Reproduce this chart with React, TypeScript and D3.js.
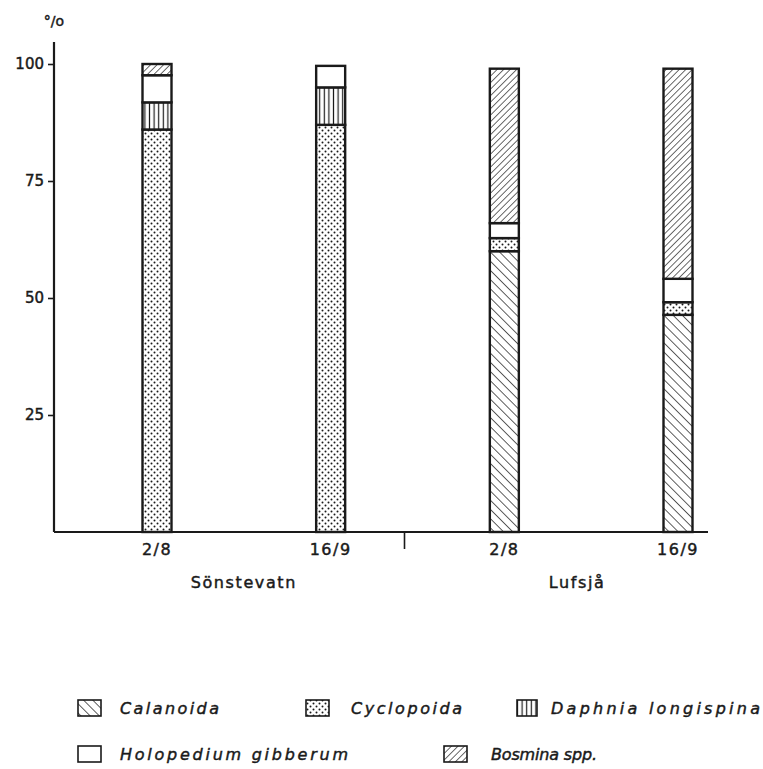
import { useEffect, useRef } from 'react';
import * as d3 from 'd3';

// samples, left to right
const sampleIds = ['S-2/8', 'S-16/9', 'L-2/8', 'L-16/9'];
const sampleDates = ['2/8', '16/9', '2/8', '16/9'];
const lakes = ['Sönstevatn', 'Lufsjå'];
const sampleLake = ['Sönstevatn', 'Sönstevatn', 'Lufsjå', 'Lufsjå'];

// percentages per group
const calanoida = [0, 0, 60, 46.4];
const cyclopoida = [86, 87, 2.8, 2.7];
const daphnia = [5.8, 8, 0, 0];
const holopedium = [5.8, 4.6, 3.2, 5];
const bosmina = [2.4, 0, 33, 44.9];

const yTicks = [25, 50, 75, 100];

const taxa = ['Calanoida', 'Cyclopoida', 'Daphnia longispina', 'Holopedium gibberum', 'Bosmina spp.'];
const fills = ['url(#p-cal)', 'url(#p-cyc)', 'url(#p-dap)', '#fff', 'url(#p-bos)'];

export default function App() {
  const svgRef = useRef<SVGSVGElement>(null);

  useEffect(() => {
    if (!svgRef.current) return;
    const svg = d3.select(svgRef.current);
    svg.selectAll('*').remove();

    const ink = '#1a1a1a';
    const font = '"DejaVu Sans", sans-serif';

    const margin = { left: 54, top: 42, right: 708, baseline: 532 };

    const x = d3.scalePoint<string>().domain(sampleIds).range([157, 678]);
    const y = d3.scaleLinear().domain([0, 100]).range([margin.baseline, 64]);
    const barW = 29;

    // patterns
    const defs = svg.append('defs');
    const cal = defs.append('pattern').attr('id', 'p-cal').attr('patternUnits', 'userSpaceOnUse')
      .attr('width', 6.5).attr('height', 6.5).attr('patternTransform', 'rotate(45)');
    cal.append('rect').attr('width', 6.5).attr('height', 6.5).attr('fill', '#fff');
    cal.append('line').attr('x1', 0).attr('y1', 0).attr('x2', 6.5).attr('y2', 0)
      .attr('stroke', ink).attr('stroke-width', 1.4);

    const bos = defs.append('pattern').attr('id', 'p-bos').attr('patternUnits', 'userSpaceOnUse')
      .attr('width', 4.6).attr('height', 4.6).attr('patternTransform', 'rotate(-45)');
    bos.append('rect').attr('width', 4.6).attr('height', 4.6).attr('fill', '#fff');
    bos.append('line').attr('x1', 0).attr('y1', 0).attr('x2', 4.6).attr('y2', 0)
      .attr('stroke', ink).attr('stroke-width', 1.3);

    const cyc = defs.append('pattern').attr('id', 'p-cyc').attr('patternUnits', 'userSpaceOnUse')
      .attr('width', 6).attr('height', 6);
    cyc.append('rect').attr('width', 6).attr('height', 6).attr('fill', '#fff');
    cyc.append('circle').attr('cx', 1.5).attr('cy', 1.5).attr('r', 1).attr('fill', ink);
    cyc.append('circle').attr('cx', 4.5).attr('cy', 4.5).attr('r', 1).attr('fill', ink);

    const dap = defs.append('pattern').attr('id', 'p-dap').attr('patternUnits', 'userSpaceOnUse')
      .attr('width', 4.6).attr('height', 4.6);
    dap.append('rect').attr('width', 4.6).attr('height', 4.6).attr('fill', '#fff');
    dap.append('line').attr('x1', 2.3).attr('y1', 0).attr('x2', 2.3).attr('y2', 4.6)
      .attr('stroke', ink).attr('stroke-width', 1.2);

    // stacked data
    const rows = sampleIds.map((id, i) => ({
      id,
      [taxa[0]]: calanoida[i],
      [taxa[1]]: cyclopoida[i],
      [taxa[2]]: daphnia[i],
      [taxa[3]]: holopedium[i],
      [taxa[4]]: bosmina[i],
    }));
    const series = d3.stack<any>().keys(taxa)(rows);

    series.forEach((s, k) => {
      svg.append('g').selectAll('rect')
        .data(s.filter(d => d[1] - d[0] > 0))
        .enter().append('rect')
        .attr('x', d => (x(d.data.id) || 0) - barW / 2)
        .attr('width', barW)
        .attr('y', d => y(d[1]))
        .attr('height', d => y(d[0]) - y(d[1]))
        .attr('fill', fills[k])
        .attr('stroke', ink)
        .attr('stroke-width', 2.4);
    });

    // slightly heavier text, like the printed original
    const heavy = (sel: any) => sel.attr('stroke', ink).attr('stroke-width', 0.45).attr('fill', ink);

    // y axis
    const yAxis = svg.append('g')
      .attr('transform', `translate(${margin.left},0)`)
      .call(d3.axisLeft(y).tickValues(yTicks).tickSize(6).tickPadding(4));
    yAxis.select('.domain').remove();
    yAxis.selectAll('line').attr('stroke', ink).attr('stroke-width', 1.6);
    yAxis.selectAll('text')
      .style('font-family', font).style('font-size', '15px').call(heavy);
    svg.append('line')
      .attr('x1', margin.left).attr('x2', margin.left)
      .attr('y1', margin.top).attr('y2', margin.baseline)
      .attr('stroke', ink).attr('stroke-width', 2.2);
    svg.append('text')
      .attr('x', 54).attr('y', 26).attr('text-anchor', 'middle')
      .style('font-family', font).style('font-size', '14px')
      .call(heavy)
      .text('°/o');

    // x axis
    svg.append('line')
      .attr('x1', margin.left).attr('x2', margin.right)
      .attr('y1', margin.baseline).attr('y2', margin.baseline)
      .attr('stroke', ink).attr('stroke-width', 2.2);
    const divX = ((x(sampleIds[1]) || 0) + (x(sampleIds[2]) || 0)) / 2 - 13;
    svg.append('line')
      .attr('x1', divX).attr('x2', divX)
      .attr('y1', margin.baseline).attr('y2', margin.baseline + 17)
      .attr('stroke', ink).attr('stroke-width', 1.6);

    svg.append('g').selectAll('text')
      .data(sampleIds)
      .enter().append('text')
      .attr('x', d => x(d) || 0)
      .attr('y', 555)
      .attr('text-anchor', 'middle')
      .style('font-family', font).style('font-size', '16px').style('letter-spacing', '1.5px')
      .call(heavy)
      .text((d, i) => sampleDates[i]);

    svg.append('g').selectAll('text')
      .data(lakes)
      .enter().append('text')
      .attr('x', lake => (d3.mean(sampleIds.filter((_, i) => sampleLake[i] === lake), id => x(id) || 0) || 0) - (lake === 'Lufsjå' ? 14 : 0))
      .attr('y', 588)
      .attr('text-anchor', 'middle')
      .style('font-family', font).style('font-size', '16px').style('letter-spacing', '1.6px')
      .call(heavy)
      .text(d => d);

    // legend
    const legendPos = [
      { bx: 78, tx: 120, y: 708, w: 99 },
      { bx: 306, tx: 351, y: 708, w: 111 },
      { bx: 517, tx: 551, y: 708, w: 209 },
      { bx: 78, tx: 120, y: 754, w: 228 },
      { bx: 444, tx: 491, y: 754, w: 106 },
    ];
    const legend = svg.append('g');
    taxa.forEach((t, k) => {
      const p = legendPos[k];
      legend.append('rect')
        .attr('x', p.bx).attr('y', p.y - 8).attr('width', k === 2 ? 20 : 23).attr('height', 16)
        .attr('fill', fills[k]).attr('stroke', ink).attr('stroke-width', 1.6);
      legend.append('text')
        .attr('x', p.tx).attr('y', p.y + 6)
        .attr('textLength', p.w).attr('lengthAdjust', 'spacing')
        .style('font-family', font).style('font-size', '16px').style('font-style', 'italic')
        .call(heavy)
        .text(t);
    });
  }, []);

  return (
    <svg ref={svgRef} width={763} height={769}
      style={{ position: 'absolute', left: 0, top: 0, background: '#fff' }} />
  );
}
